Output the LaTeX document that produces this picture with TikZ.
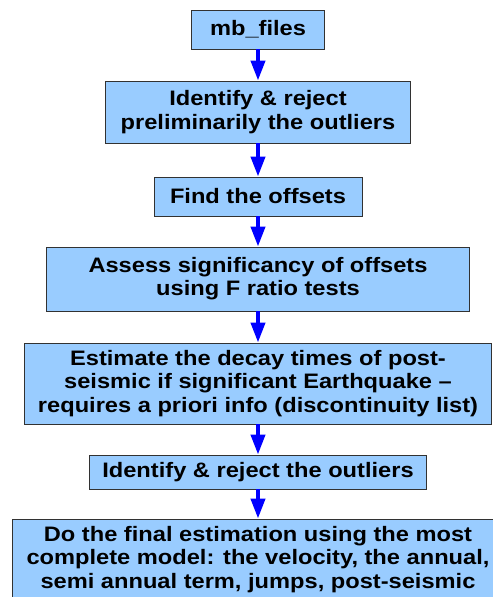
\documentclass[tikz,border=0pt]{standalone}
\usepackage{fontspec}
\setmainfont{Liberation Sans}[FakeStretch=1.13]
\usetikzlibrary{arrows.meta,positioning}
\definecolor{stepblue}{RGB}{153,204,255}
\definecolor{stepline}{RGB}{50,50,50}
\definecolor{flowblue}{RGB}{0,0,255}

\begin{document}
\begin{tikzpicture}[
    x=1bp,y=-1bp,
    stepbox/.style={rectangle,draw=stepline,fill=stepblue,line width=0.9bp,align=center,inner sep=0pt,
      font=\fontsize{21}{23.3}\selectfont\bfseries},
    flow/.style={-{Triangle[width=14bp,length=20bp]},flowblue,line width=4bp},
  ]
    \useasboundingbox (0,0) rectangle (493,597);
    \clip (0,0) rectangle (493,597);
    \node[stepbox,minimum width=133bp,minimum height=39bp] (files) at (258,29.5) {mb\_files};
    \node[stepbox,minimum width=305bp,minimum height=62bp] (prereject) at (258,112)
      {Identify \& reject\\preliminarily the outliers};
    \node[stepbox,minimum width=208bp,minimum height=39bp] (offsets) at (258,196.5) {Find the offsets};
    \node[stepbox,minimum width=423bp,minimum height=64bp] (ftest) at (258,279)
      {Assess significancy of offsets\\using F ratio tests};
    \node[stepbox,minimum width=467bp,minimum height=81bp] (decay) at (258,383.5)
      {Estimate the decay times of post-\\seismic if significant Earthquake --\\requires a priori info (discontinuity list)};
    \node[stepbox,minimum width=337bp,minimum height=34bp] (reject) at (258,472) {Identify \& reject the outliers};
    \node[stepbox,minimum width=492bp,minimum height=81bp] (final) at (258,559.5)
      {Do the final estimation using the most\\complete model: the velocity, the annual,\\semi annual term, jumps, post-seismic};
    % arrows between the steps
    \draw[flow] (files) -- (prereject);
    \draw[flow] (prereject) -- (offsets);
    \draw[flow] (offsets) -- (ftest);
    \draw[flow] (ftest) -- (decay);
    \draw[flow] (decay) -- (reject);
    \draw[flow] (reject) -- (final);
\end{tikzpicture}
\end{document}
